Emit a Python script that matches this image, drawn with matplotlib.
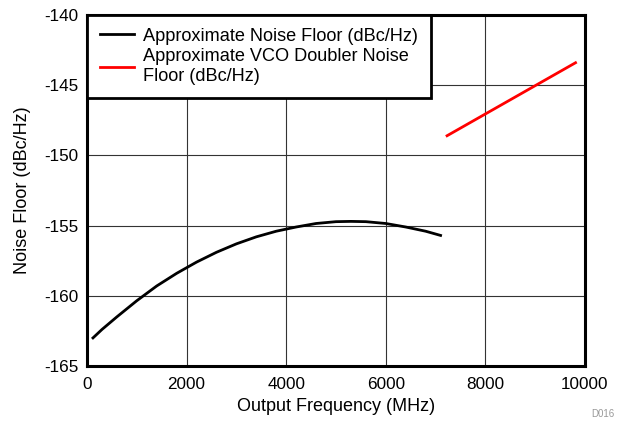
import matplotlib
matplotlib.use("Agg")
import matplotlib.pyplot as plt

plt.rcParams['font.family'] = ['Liberation Sans', 'DejaVu Sans']
plt.rcParams['axes.unicode_minus'] = False

freq = [120, 300, 600, 1000, 1400, 1800, 2200, 2600, 3000, 3400, 3800, 4200, 4600,
        5000, 5300, 5600, 6000, 6400, 6800, 7100]
noise = [-163.0, -162.4, -161.5, -160.35, -159.3, -158.4, -157.6, -156.9, -156.3,
         -155.8, -155.4, -155.1, -154.85, -154.72, -154.7, -154.72, -154.85, -155.1,
         -155.4, -155.7]

dbl_freq = [7230, 9810]
dbl_noise = [-148.6, -143.4]

fig = plt.figure(figsize=(6.22, 4.21), dpi=100)
ax = fig.add_axes([87/622, 1 - 366/421, 498/622, 351/421])

ax.plot(freq, noise, color='black', lw=2, label='Approximate Noise Floor (dBc/Hz)')
ax.plot(dbl_freq, dbl_noise, color='red', lw=2,
        label='Approximate VCO Doubler Noise\nFloor (dBc/Hz)')

ax.set_xlim(0, 10000)
ax.set_ylim(-165, -140)
ax.set_xticks(range(0, 10001, 2000))
ax.set_yticks(range(-165, -139, 5))
ax.grid(True, color='#333333', lw=0.8)
ax.tick_params(length=0, labelsize=12.3, pad=6)
ax.tick_params(axis='x', pad=8)
for s in ax.spines.values():
    s.set_linewidth(2.2)

ax.set_xlabel('Output Frequency (MHz)', fontsize=13, labelpad=4)
ax.set_ylabel('Noise Floor (dBc/Hz)', fontsize=13, labelpad=10)

leg = ax.legend(loc='upper left', fontsize=13.1, fancybox=False, framealpha=1,
                borderaxespad=0, handlelength=1.9, labelspacing=0.2,
                borderpad=0.7, handletextpad=0.5)
leg.get_frame().set_edgecolor('black')
leg.get_frame().set_linewidth(2)
for t in leg.get_texts():
    t.set_linespacing(1.2)

fig.text(614/622, 1 - 419/421, 'D016', fontsize=7, color='#999999', ha='right', va='bottom')

fig.savefig('out.png', dpi=100)
